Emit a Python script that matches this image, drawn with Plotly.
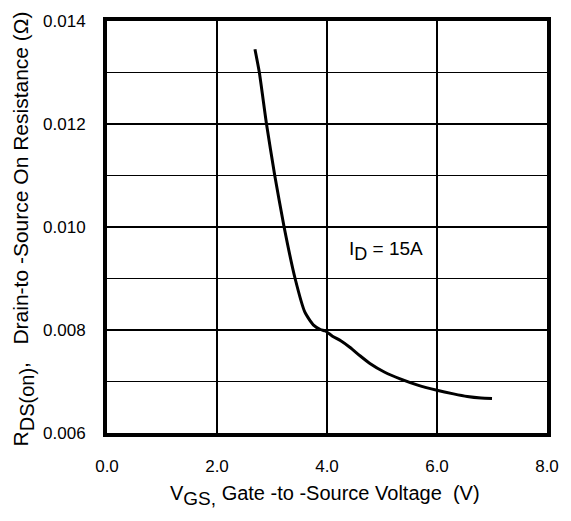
import plotly.graph_objects as go

# R_DS(on) vs V_GS at I_D = 15 A
vgs = [2.69, 2.77, 2.90, 3.05, 3.22, 3.42, 3.60, 3.75, 3.88, 3.97, 4.10, 4.25,
       4.42, 4.60, 4.78, 5.05, 5.33, 5.65, 6.00, 6.30, 6.55, 6.80, 7.00]
rds = [0.01345, 0.0130, 0.0120, 0.0110, 0.0100, 0.0090, 0.00834, 0.00810, 0.00801,
       0.00798, 0.00788, 0.00779, 0.00766, 0.00750, 0.00735, 0.00718, 0.00705, 0.00693,
       0.00683, 0.00676, 0.00671, 0.00668, 0.00667]

x_ticks = [0, 2, 4, 6, 8]
y_ticks = [0.006, 0.008, 0.010, 0.012, 0.014]

font = "Liberation Sans, Arial, Helvetica, sans-serif"


def low(s, size):
    # lowered, nearly full-size subscript
    return f"<span style='font-size:{size}px;baseline-shift:-28%'>{s}</span>"


fig = go.Figure()
fig.add_trace(go.Scatter(x=vgs, y=rds, mode="lines",
                         line=dict(color="black", width=3, shape="spline", smoothing=0.5),
                         showlegend=False, hoverinfo="skip"))

fig.add_annotation(x=4.36, y=0.00954, xanchor="left", yanchor="middle",
                   text="I" + low("D", 18) + " = 15A",
                   showarrow=False,
                   font=dict(family=font, size=19, color="black"))

# axis titles placed as paper annotations
fig.add_annotation(xref="paper", yref="paper", x=0.495, y=-0.152,
                   xanchor="center", yanchor="middle", showarrow=False,
                   text="V" + low("GS,", 19) + " Gate -to -Source Voltage&nbsp;&nbsp;(V)",
                   font=dict(family=font, size=20, color="black"))
fig.add_annotation(xref="paper", yref="paper", x=-0.19, y=0.495,
                   xanchor="center", yanchor="middle", showarrow=False, textangle=-90,
                   text="R" + low("DS(on)", 20) +
                        ",&nbsp;&nbsp;&nbsp;Drain-to -Source On Resistance (\u03a9)",
                   font=dict(family=font, size=21, color="black"))

fig.update_xaxes(range=[0, 8], tickvals=x_ticks, tickformat=".1f",
                 showline=True, linecolor="black", linewidth=4, mirror=True,
                 showgrid=True, gridcolor="black", gridwidth=2,
                 zeroline=False, ticks="", ticklabelstandoff=15,
                 tickfont=dict(family=font, size=17, color="black"))
fig.update_yaxes(range=[0.006, 0.014], tickvals=y_ticks, tickformat=".3f",
                 showline=True, linecolor="black", linewidth=4, mirror=True,
                 showgrid=True, gridcolor="black", gridwidth=2,
                 zeroline=False, ticks="", ticklabelstandoff=14,
                 minor=dict(dtick=0.001, tick0=0.006, showgrid=True,
                            gridcolor="black", gridwidth=1, ticks=""),
                 tickfont=dict(family=font, size=17, color="black"))

fig.update_layout(width=571, height=521,
                  margin=dict(l=107, r=24, t=13, b=88),
                  paper_bgcolor="white", plot_bgcolor="white")

fig.write_html("out.html")
